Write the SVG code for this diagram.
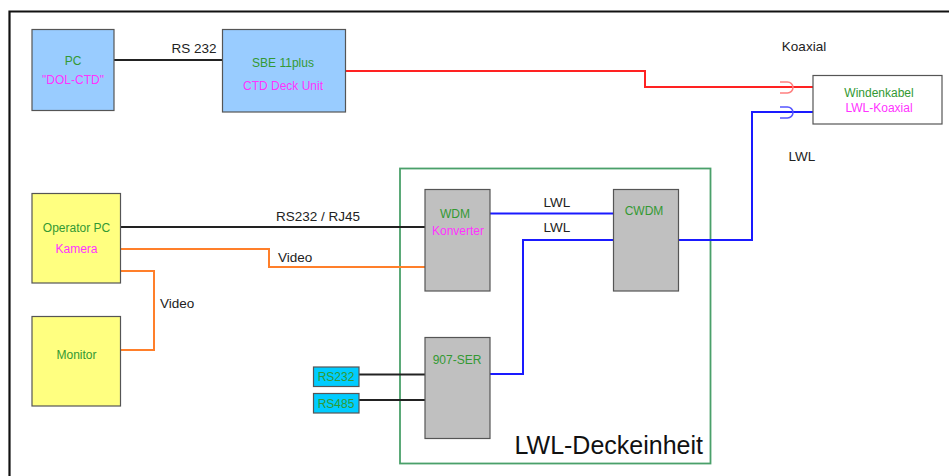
<svg xmlns="http://www.w3.org/2000/svg" width="949" height="476" viewBox="0 0 949 476">
  <style>
    text { font-family: "Liberation Sans", Arial, sans-serif; }
    .node { stroke: #555; stroke-width: 1.2; }
    .blue { fill: #99ccff; }
    .yellow { fill: #ffff80; }
    .grey { fill: #c0c0c0; }
    .cyan { fill: #00ccff; }
    .t { font-size: 12px; text-anchor: middle; }
    .g { fill: #339933; }
    .m { fill: #ff33ff; }
    .lbl { font-size: 13.5px; fill: #222; }
    .w { fill: none; stroke-width: 2; }
    .k { stroke: #222; }
    .r { stroke: #ff2222; }
    .b { stroke: #1a1aff; }
    .o { stroke: #ff7f2a; }
  </style>

  <!-- outer frame (left and top edges) -->
  <path d="M9.5,476 V11.5 H949" fill="none" stroke="#111" stroke-width="2.2"/>

  <!-- deck unit housing -->
  <g id="lwl-deckeinheit">
    <rect x="400" y="168.5" width="310.5" height="295" fill="none" stroke="#4aa06a" stroke-width="1.8"/>
    <text x="703" y="454" font-size="25" text-anchor="end" fill="#111">LWL-Deckeinheit</text>
  </g>

  <!-- connectors -->
  <g id="connectors">
    <path class="w k" d="M114,60 H222"/>
    <path class="w r" d="M345,71 H645 V87 H813"/>
    <path class="w b" d="M679,240 H752 V112 H813"/>
    <path class="w k" d="M121,227 H425"/>
    <path class="w o" d="M121,249 H269 V267 H425"/>
    <path class="w o" d="M121,271 H154 V350 H121"/>
    <path class="w b" d="M490,213.5 H613"/>
    <path class="w b" d="M490,374 H523 V240 H613"/>
    <path class="w k" d="M359,374.5 H425"/>
    <path class="w k" d="M359,400 H425"/>
    <!-- plug symbols -->
    <path d="M780,82 H787.5 A5.5,5.5 0 0 1 787.5,93 H780" fill="none" stroke="#ff8080" stroke-width="1.5"/>
    <path d="M780,107 H787.5 A5.5,5.5 0 0 1 787.5,118 H780" fill="none" stroke="#5555ff" stroke-width="1.5"/>
    <!-- line labels -->
    <text class="lbl" x="194" y="53" text-anchor="middle">RS 232</text>
    <text class="lbl" x="804" y="51" text-anchor="middle">Koaxial</text>
    <text class="lbl" x="802" y="161" text-anchor="middle">LWL</text>
    <text class="lbl" x="318" y="221" text-anchor="middle">RS232 / RJ45</text>
    <text class="lbl" x="278" y="262">Video</text>
    <text class="lbl" x="160" y="308">Video</text>
    <text class="lbl" x="557" y="206.5" text-anchor="middle">LWL</text>
    <text class="lbl" x="557" y="231.5" text-anchor="middle">LWL</text>
  </g>

  <g id="pc">
    <rect class="node blue" x="32" y="29.5" width="82" height="81"/>
    <text class="t g" x="73" y="64.5">PC</text>
    <text class="t m" x="73" y="83.5">"DOL-CTD"</text>
  </g>

  <g id="sbe">
    <rect class="node blue" x="222.5" y="29.5" width="123" height="82.5"/>
    <text class="t g" x="283" y="66.5">SBE 11plus</text>
    <text class="t m" x="283" y="90">CTD Deck Unit</text>
  </g>

  <g id="windenkabel">
    <rect x="813" y="75.5" width="129" height="48.5" fill="#fff" stroke="#555" stroke-width="1.2"/>
    <text class="t g" x="879" y="96.5">Windenkabel</text>
    <text class="t m" x="879" y="112">LWL-Koaxial</text>
  </g>

  <g id="operator-pc">
    <rect class="node yellow" x="32" y="193.5" width="88.5" height="89.5"/>
    <text class="t g" x="76.5" y="232">Operator PC</text>
    <text class="t m" x="76.5" y="253">Kamera</text>
  </g>

  <g id="monitor">
    <rect class="node yellow" x="32" y="316.5" width="88.5" height="89.5"/>
    <text class="t g" x="76.5" y="358.5">Monitor</text>
  </g>

  <g id="wdm">
    <rect class="node grey" x="425" y="189.5" width="65" height="101.5"/>
    <text class="t g" x="455" y="217.5">WDM</text>
    <text class="t m" x="458" y="235">Konverter</text>
  </g>

  <g id="cwdm">
    <rect class="node grey" x="613.5" y="189.5" width="65" height="101.5"/>
    <text class="t g" x="644" y="214.5">CWDM</text>
  </g>

  <g id="ser907">
    <rect class="node grey" x="425" y="337.5" width="65" height="101"/>
    <text class="t g" x="457" y="363.5">907-SER</text>
  </g>

  <g id="rs232">
    <rect class="node cyan" x="313.5" y="367" width="45.5" height="19.5"/>
    <text class="t g" x="336" y="381">RS232</text>
  </g>

  <g id="rs485">
    <rect class="node cyan" x="313.5" y="393.5" width="45.5" height="19.5"/>
    <text class="t g" x="336" y="407.5">RS485</text>
  </g>
</svg>
